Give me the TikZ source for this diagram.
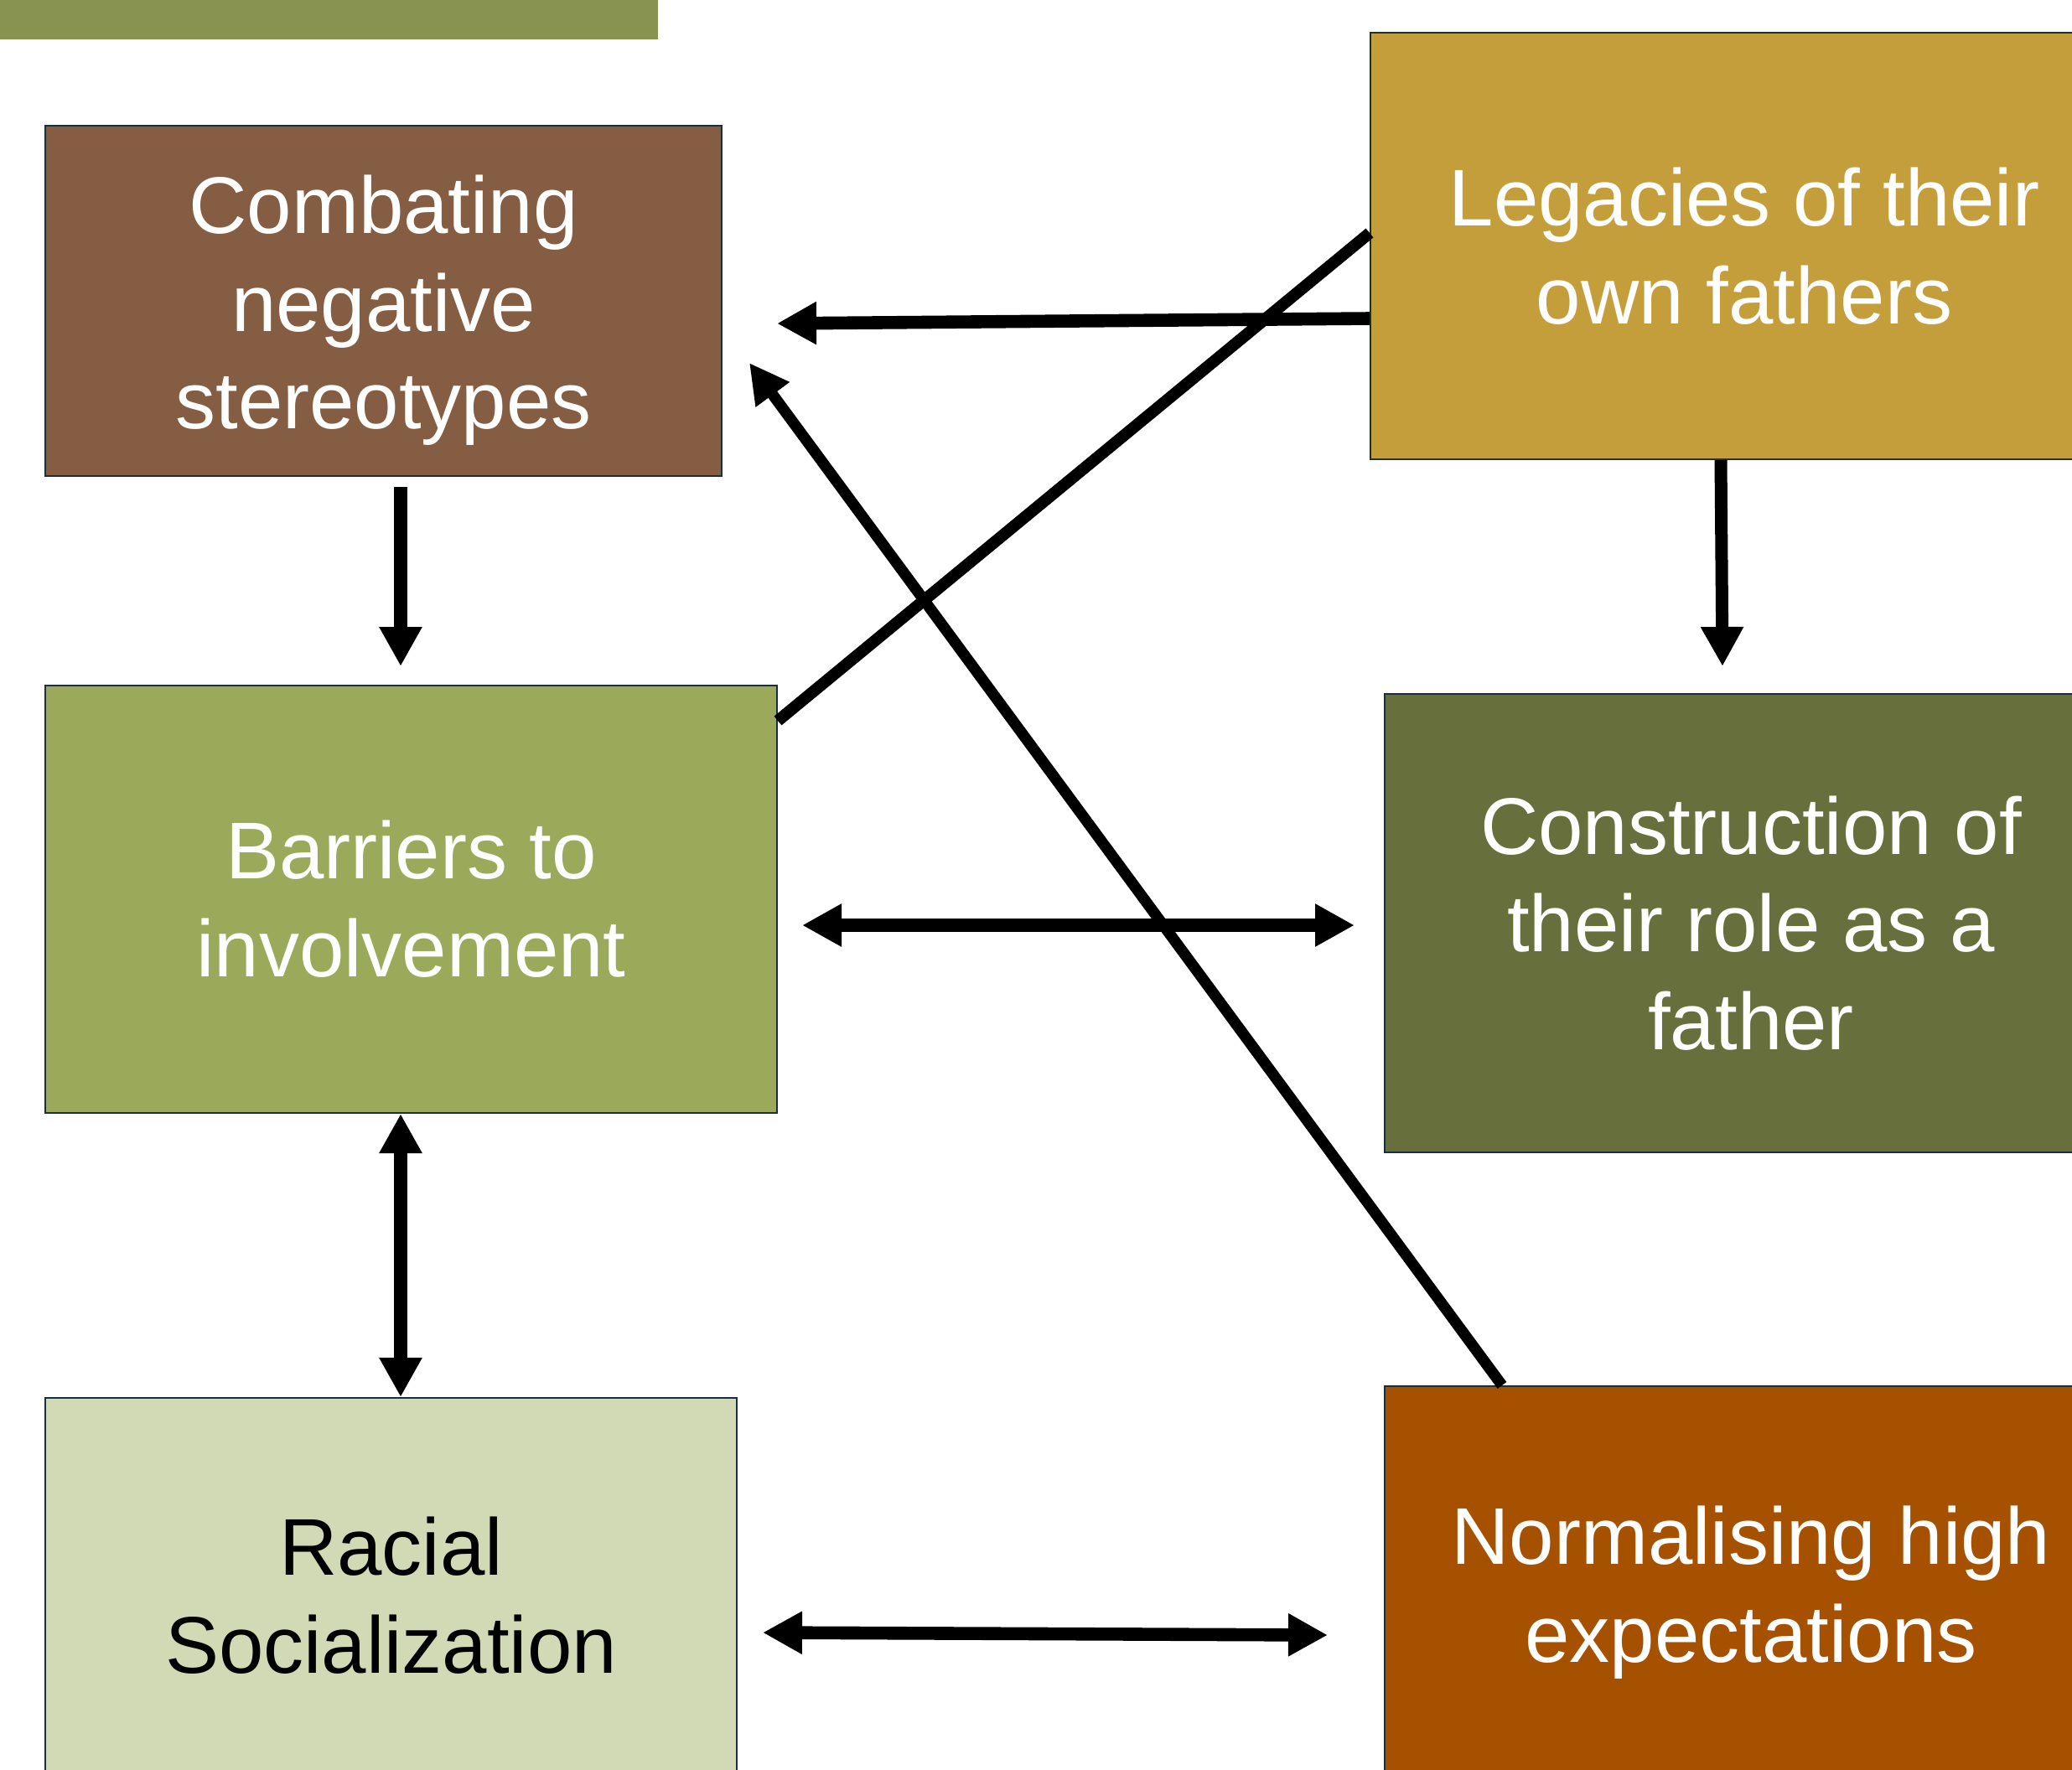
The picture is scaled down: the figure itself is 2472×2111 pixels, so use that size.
\documentclass[tikz,border=0pt]{standalone}
\usepackage{fontspec}
\setmainfont{Liberation Sans}
\usetikzlibrary{arrows.meta}
\definecolor{barG}{HTML}{87934F}
\definecolor{combC}{HTML}{855D42}
\definecolor{legC}{HTML}{C59E3C}
\definecolor{barrC}{HTML}{9BA95B}
\definecolor{consC}{HTML}{67703C}
\definecolor{racC}{HTML}{D2D9B5}
\definecolor{normC}{HTML}{A65100}
\definecolor{edgeC}{HTML}{17303A}
\begin{document}
\begin{tikzpicture}[x=0.25pt,y=-0.25pt,
  box/.style={draw=edgeC, line width=0.5pt, inner sep=0pt, align=center,
    font=\fontsize{24}{29.2}\selectfont, text=white},
  arr/.style={line width=3.9pt, -{Triangle[length=11.75pt,width=12pt]}},
  darr/.style={line width=3.9pt, {Triangle[length=11.75pt,width=12pt]}-{Triangle[length=11.75pt,width=12pt]}},
  thinarr/.style={line width=3.3pt, -{Triangle[length=11.75pt,width=11.75pt]}},
  ln/.style={line width=3.5pt}]
\useasboundingbox (0,0) rectangle (2472,2111);
\fill[barG] (0,0) rectangle (785,47);

\node[box, fill=combC, minimum width=201.75pt, minimum height=104.5pt] (comb) at (457.5,359) {\rule{0pt}{23pt}Combating\\negative\\stereotypes};
\node[box, fill=legC, minimum width=223pt, minimum height=127.25pt] (leg) at (2081,293.5) {Legacies of their\\own fathers};
\node[box, fill=barrC, minimum width=218.25pt, minimum height=127.5pt] (barr) at (490.5,1073) {Barriers to\\involvement};
\node[box, fill=consC, minimum width=218.5pt, minimum height=136.75pt] (cons) at (2089,1101.5) {Construction of\\their role as a\\father};
\node[box, fill=racC, text=black, minimum width=206.25pt, minimum height=118pt] (rac) at (466.5,1904) {Racial\\Socialization};
\node[box, fill=normC, minimum width=218.5pt, minimum height=123pt] (norm) at (2089,1900) {Normalising high\\expectations};

\coordinate (y380) at (0,380);
\coordinate (y278) at (0,278);
\coordinate (y860) at (0,860);
\coordinate (x1792) at (1792,0);
\coordinate (x478) at (478,0);
\coordinate (x2053) at (2053,0);
\coordinate (t1) at (927,386);
\coordinate (t3) at (894,433);
\coordinate (s4) at (478,581);
\coordinate (t4) at (478,795);
\coordinate (t5) at (2055,795);
\coordinate (a6) at (957,1104);
\coordinate (b6) at (1616,1104);
\coordinate (a8) at (910,1948);
\coordinate (b8) at (1584,1951);

% Legacies -> Combating
\draw[arr] (leg.west |- y380) -- (t1);
% Legacies -- Barriers (diagonal)
\draw[ln] (leg.west |- y278) -- (barr.east |- y860);
% Normalising -> Combating (diagonal)
\draw[thinarr] (norm.north -| x1792) -- (t3);
% Combating -> Barriers
\draw[arr] (s4) -- (t4);
% Legacies -> Construction
\draw[arr, line width=3.75pt] (leg.south -| x2053) -- (t5);
% Barriers <-> Construction
\draw[darr] (a6) -- (b6);
% Barriers <-> Racial
\draw[darr] (barr.south -| x478) -- (rac.north -| x478);
% Racial <-> Normalising
\draw[darr] (a8) -- (b8);
\end{tikzpicture}
\end{document}
